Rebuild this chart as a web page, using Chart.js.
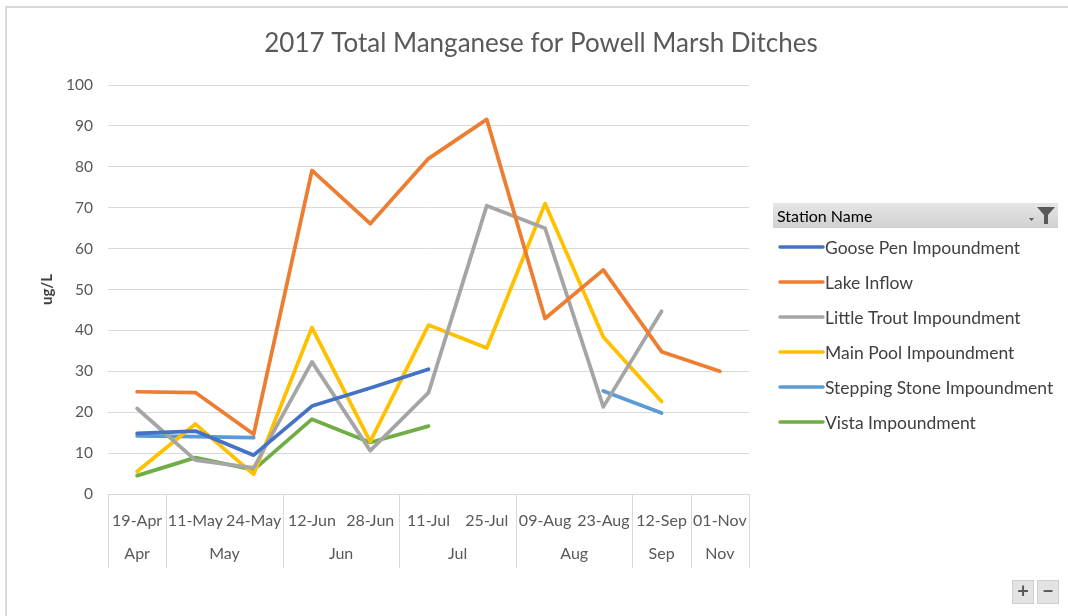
<!DOCTYPE html>
<html>
<head>
<meta charset="utf-8">
<script src="https://cdn.jsdelivr.net/npm/chart.js@4"></script>
<style>
  html, body { margin: 0; padding: 0; background: #ffffff; }
  #wrap { width: 1068px; height: 616px; position: relative; }
</style>
</head>
<body>
<div id="wrap"><canvas id="c" width="1068" height="616"></canvas></div>
<script>
// ---- Data ----
const dateLabels = ['19-Apr','11-May','24-May','12-Jun','28-Jun','11-Jul','25-Jul','09-Aug','23-Aug','12-Sep','01-Nov'];
const monthLabels = ['Apr','May','May','Jun','Jun','Jul','Jul','Aug','Aug','Sep','Nov'];
const seriesNames = ['Goose Pen Impoundment','Lake Inflow','Little Trout Impoundment','Main Pool Impoundment','Stepping Stone Impoundment','Vista Impoundment'];
const goosePen      = [14.8, 15.4,  9.5, 21.5, 25.9, 30.5, null, null, null, null, null];
const lakeInflow    = [25.0, 24.8, 14.6, 79.1, 66.1, 82.0, 91.6, 42.9, 54.8, 34.8, 30.0];
const littleTrout   = [20.9,  8.3,  6.4, 32.3, 10.6, 24.8, 70.5, 65.0, 21.3, 44.7, null];
const mainPool      = [ 5.5, 17.1,  4.8, 40.7, 12.8, 41.3, 35.7, 71.0, 38.4, 22.6, null];
const steppingStone = [14.2, 14.0, 13.8, null, null, null, null, null, 25.2, 19.8, null];
const vista         = [ 4.5,  8.9,  5.9, 18.3, 12.6, 16.6, null, null, null, null, null];
const seriesColors = ['#4472C4','#ED7D31','#A5A5A5','#FFC000','#5B9BD5','#70AD47'];
const titleText = '2017 Total Manganese for Powell Marsh Ditches';
const yTitle = 'ug/L';
const legendHeader = 'Station Name';

const FONT = 'Lato, "Open Sans", sans-serif';
const seriesValues = [goosePen, lakeInflow, littleTrout, mainPool, steppingStone, vista];

const datasets = seriesNames.map((name, i) => ({
  label: name,
  data: seriesValues[i],
  borderColor: seriesColors[i],
  backgroundColor: seriesColors[i],
  borderWidth: 3.75,
  pointRadius: 0,
  pointHoverRadius: 0,
  tension: 0,
  spanGaps: false,
  borderCapStyle: 'round',
  borderJoinStyle: 'round',
  fill: false
}));

const framePlugin = {
  id: 'frame',
  beforeDraw(chart) {
    const ctx = chart.ctx;
    ctx.save();
    ctx.fillStyle = '#ffffff';
    ctx.fillRect(0, 0, chart.width, chart.height);
    ctx.strokeStyle = '#d9d9d9';
    ctx.lineWidth = 2;
    ctx.beginPath();
    ctx.moveTo(6, 616);
    ctx.lineTo(6, 7);
    ctx.lineTo(1068, 7);
    ctx.stroke();
    // chart title, centred on the whole chart frame
    ctx.fillStyle = '#595959';
    ctx.font = '26px ' + FONT;
    ctx.textAlign = 'center';
    ctx.textBaseline = 'middle';
    ctx.fillText(titleText, 541, 44);
    ctx.restore();
  }
};

const groupAxisPlugin = {
  id: 'groupAxis',
  afterDraw(chart) {
    const ctx = chart.ctx;
    const x = chart.scales.x;
    const area = chart.chartArea;
    const half = (x.getPixelForValue(1) - x.getPixelForValue(0)) / 2;
    const top = area.bottom;
    const bottom = top + 74;
    ctx.save();
    ctx.strokeStyle = '#d9d9d9';
    ctx.lineWidth = 1;
    const bounds = [];
    let start = 0;
    for (let i = 1; i <= monthLabels.length; i++) {
      if (i === monthLabels.length || monthLabels[i] !== monthLabels[start]) {
        const l = x.getPixelForValue(start) - half;
        const r = x.getPixelForValue(i - 1) + half;
        bounds.push({ l, r, text: monthLabels[start] });
        start = i;
      }
    }
    ctx.beginPath();
    bounds.forEach((b, k) => {
      if (k === 0) {
        ctx.moveTo(Math.round(b.l) + 0.5, top);
        ctx.lineTo(Math.round(b.l) + 0.5, bottom);
      }
      ctx.moveTo(Math.round(b.r) + 0.5, top);
      ctx.lineTo(Math.round(b.r) + 0.5, bottom);
    });
    ctx.stroke();
    ctx.fillStyle = '#595959';
    ctx.font = '16px ' + FONT;
    ctx.textAlign = 'center';
    ctx.textBaseline = 'middle';
    bounds.forEach(b => ctx.fillText(b.text, (b.l + b.r) / 2, top + 60));
    ctx.restore();
  }
};

const legendPlugin = {
  id: 'customLegend',
  afterDraw(chart) {
    const ctx = chart.ctx;
    ctx.save();
    const hx = 773, hy = 203, hw = 285, hh = 25;
    const g = ctx.createLinearGradient(0, hy, 0, hy + hh);
    g.addColorStop(0, '#e6e6e6');
    g.addColorStop(1, '#d0d0d0');
    ctx.fillStyle = g;
    ctx.fillRect(hx, hy, hw, hh);
    ctx.fillStyle = '#000000';
    ctx.font = '16px ' + FONT;
    ctx.textAlign = 'left';
    ctx.textBaseline = 'middle';
    ctx.fillText(legendHeader, hx + 4, hy + hh / 2 + 1);
    ctx.fillStyle = '#595959';
    ctx.beginPath();
    ctx.moveTo(1037, 207);
    ctx.lineTo(1055, 207);
    ctx.lineTo(1048, 215);
    ctx.lineTo(1048, 224);
    ctx.lineTo(1044, 224);
    ctx.lineTo(1044, 215);
    ctx.closePath();
    ctx.fill();
    ctx.beginPath();
    ctx.moveTo(1029, 218);
    ctx.lineTo(1034, 218);
    ctx.lineTo(1031.5, 221);
    ctx.closePath();
    ctx.fill();
    chart.data.datasets.forEach((ds, i) => {
      const y = 247 + i * 35;
      ctx.strokeStyle = ds.borderColor;
      ctx.lineWidth = 3.5;
      ctx.lineCap = 'round';
      ctx.beginPath();
      ctx.moveTo(780, y);
      ctx.lineTo(823, y);
      ctx.stroke();
      ctx.fillStyle = '#404040';
      ctx.font = '17.5px ' + FONT;
      ctx.fillText(ds.label, 825, y + 1);
    });
    [[1012, '+'], [1037, '\u2212']].forEach(([bx, t]) => {
      ctx.fillStyle = '#e3e3e3';
      ctx.fillRect(bx, 580, 22, 24);
      ctx.strokeStyle = '#cfcfcf';
      ctx.lineWidth = 1;
      ctx.strokeRect(bx + 0.5, 580.5, 21, 23);
      ctx.fillStyle = '#595959';
      ctx.font = 'bold 20px ' + FONT;
      ctx.textAlign = 'center';
      ctx.fillText(t, bx + 11, 592);
      ctx.textAlign = 'left';
    });
    ctx.restore();
  }
};

new Chart(document.getElementById('c'), {
  type: 'line',
  data: { labels: dateLabels, datasets },
  plugins: [framePlugin, groupAxisPlugin, legendPlugin],
  options: {
    responsive: false,
    animation: false,
    events: [],
    layout: { padding: { left: 0, right: 319, top: 85, bottom: 48 } },
    plugins: {
      legend: { display: false },
      tooltip: { enabled: false },
      title: { display: false }
    },
    scales: {
      x: {
        type: 'category',
        offset: true,
        grid: { display: false, drawTicks: false },
        border: { display: false },
        ticks: {
          color: '#595959',
          font: { family: FONT, size: 16 },
          padding: 17,
          maxRotation: 0,
          autoSkip: false
        },
        afterFit(s) { s.height = 74; }
      },
      y: {
        min: 0,
        max: 100,
        grid: { color: '#d9d9d9', lineWidth: 1, drawTicks: false },
        border: { display: false },
        ticks: {
          stepSize: 10,
          color: '#595959',
          font: { family: FONT, size: 15.5 },
          padding: 15
        },
        title: {
          display: true,
          text: yTitle,
          color: '#404040',
          font: { family: FONT, size: 15, weight: 'bold' },
          padding: { top: 38, bottom: 0 }
        },
        afterFit(s) { s.width = 108; }
      }
    }
  }
});
</script>
</body>
</html>
